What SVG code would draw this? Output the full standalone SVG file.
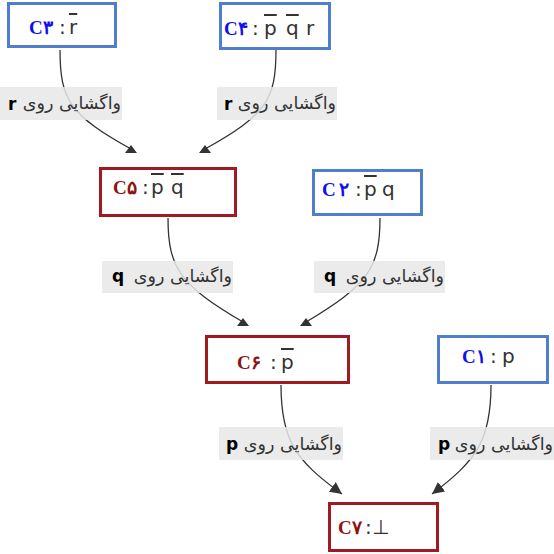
<svg xmlns="http://www.w3.org/2000/svg" width="554" height="554" viewBox="0 0 554 554">
<style>
.bg{fill:#ffffff}
.nb{fill:#ffffff;stroke:#4f7fcc;stroke-width:3}
.nr{fill:#ffffff;stroke:#a11a22;stroke-width:3}
.cb{font-family:"Liberation Serif","DejaVu Serif",serif;font-weight:bold;font-size:19px;fill:#1010ee}
.cr{font-family:"Liberation Serif","DejaVu Serif",serif;font-weight:bold;font-size:19px;fill:#8b1414}
.lt{font-family:"DejaVu Sans",sans-serif;font-size:20px;fill:#333333}
.ov{text-decoration:overline}
.edge{fill:none;stroke:#333333;stroke-width:1.3}
.lb{fill:#e8e8e8;opacity:0.85}
.fa{font-family:"DejaVu Sans",sans-serif;font-size:17.5px;fill:#333333}
.fv{font-family:"DejaVu Sans",sans-serif;font-size:17px;font-weight:bold;fill:#000000}
</style>
<defs>
<marker id="up" markerWidth="12" markerHeight="8" refX="6" refY="4" orient="0" markerUnits="userSpaceOnUse">
<path d="M0,8 L6,0 L12,8 Z" fill="#333333"/>
</marker>
<marker id="tip" markerWidth="12" markerHeight="12" refX="12" refY="6" orient="auto" markerUnits="userSpaceOnUse">
<path d="M0,0 L12,6 L0,12 Z" fill="#333333"/>
</marker>
</defs>
<rect class="bg" x="0" y="0" width="554" height="554"/>
<g id="connectors">
<path class="edge" d="M60,50 C60,100 70,115 131,149" marker-end="url(#up)"/>
<path class="edge" d="M276,50 C276,100 266,115 205,149" marker-end="url(#up)"/>
<path class="edge" d="M168,218 C168,268 180,285 243,322" marker-end="url(#up)"/>
<path class="edge" d="M380,218 C380,268 368,285 306,322" marker-end="url(#up)"/>
<path class="edge" d="M281,385 C281,440 295,460 342,494" marker-end="url(#tip)"/>
<path class="edge" d="M491,385 C491,440 477,460 432,494" marker-end="url(#tip)"/>
</g>
<g id="edge-labels">
<g id="label-c3-c5"><rect class="lb" x="0" y="87" width="122" height="33"/><text class="fv" x="8" y="110">r</text><text class="fa" x="121" y="109" text-anchor="end">واگشایی روی</text></g>
<g id="label-c4-c5"><rect class="lb" x="217" y="87" width="120" height="33"/><text class="fv" x="224" y="110">r</text><text class="fa" x="336" y="109" text-anchor="end">واگشایی روی</text></g>
<g id="label-c5-c6"><rect class="lb" x="102" y="261" width="131" height="32"/><text class="fv" x="112" y="282">q</text><text class="fa" x="232" y="282" text-anchor="end">واگشایی روی</text></g>
<g id="label-c2-c6"><rect class="lb" x="314" y="261" width="131" height="32"/><text class="fv" x="324" y="282">q</text><text class="fa" x="444" y="282" text-anchor="end">واگشایی روی</text></g>
<g id="label-c6-c7"><rect class="lb" x="219" y="427" width="124" height="33"/><text class="fv" x="226" y="450">p</text><text class="fa" x="342" y="450" text-anchor="end">واگشایی روی</text></g>
<g id="label-c1-c7"><rect class="lb" x="430" y="427" width="124" height="33"/><text class="fv" x="438" y="450">p</text><text class="fa" x="553" y="450" text-anchor="end">واگشایی روی</text></g>
</g>
<g id="node-c3"><rect class="nb" x="8.5" y="3.5" width="107" height="43"/><text x="29" y="34"><tspan class="cb">C۳</tspan><tspan class="lt" x="59">:</tspan><tspan class="lt ov" x="69">r</tspan></text></g>
<g id="node-c4"><rect class="nb" x="220.5" y="3.5" width="109" height="45"/><text x="224" y="35"><tspan class="cb">C۴</tspan><tspan class="lt" x="252">:</tspan><tspan class="lt ov" x="264">p</tspan><tspan class="lt ov" x="286">q</tspan><tspan class="lt" x="306">r</tspan></text></g>
<g id="node-c5"><rect class="nr" x="100.5" y="168.5" width="135" height="47"/><text x="113" y="194"><tspan class="cr">C۵</tspan><tspan class="lt" x="142">:</tspan><tspan class="lt ov" x="151">p</tspan><tspan class="lt ov" x="171">q</tspan></text></g>
<g id="node-c2"><rect class="nb" x="313.5" y="170.5" width="108" height="44"/><text x="322" y="196"><tspan class="cb">C</tspan><tspan class="cb" x="339">۲</tspan><tspan class="lt" x="355">:</tspan><tspan class="lt ov" x="364">p</tspan><tspan class="lt" x="382">q</tspan></text></g>
<g id="node-c6"><rect class="nr" x="206.5" y="336.5" width="142" height="46"/><text x="237" y="369"><tspan class="cr">C۶</tspan><tspan class="lt" x="270">:</tspan><tspan class="lt ov" x="281">p</tspan></text></g>
<g id="node-c1"><rect class="nb" x="438.5" y="336.5" width="109" height="46"/><text x="462" y="363"><tspan class="cb">C۱</tspan><tspan class="lt" x="490">:</tspan><tspan class="lt" x="502">p</tspan></text></g>
<g id="node-c7"><rect class="nr" x="329.5" y="503.5" width="108" height="47"/><text x="338" y="534"><tspan class="cr">C۷</tspan><tspan class="lt" x="365">:</tspan><tspan class="lt" x="372">⊥</tspan></text></g>
</svg>
